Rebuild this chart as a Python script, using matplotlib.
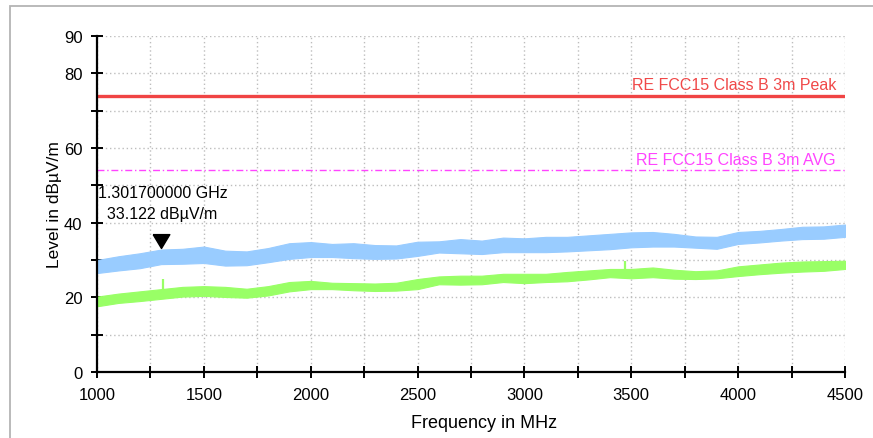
import matplotlib
matplotlib.use("Agg")
import matplotlib.pyplot as plt
from matplotlib.ticker import FixedLocator, FixedFormatter
from matplotlib.patches import Rectangle
import numpy as np

plt.rcParams['font.family'] = ['Liberation Sans', 'DejaVu Sans']

# ---- data ----
freq = [1000, 1100, 1200, 1300, 1400, 1500, 1600, 1700, 1800, 1900,
        2000, 2100, 2200, 2300, 2400, 2500, 2600, 2700, 2800, 2900,
        3000, 3100, 3200, 3300, 3400, 3500, 3600, 3700, 3800, 3900,
        4000, 4100, 4200, 4300, 4400, 4500]
peak_lo = [26.5, 27.2, 27.8, 28.9, 29.0, 29.2, 28.5, 28.6, 29.4, 30.3,
           30.8, 30.8, 30.5, 30.3, 30.4, 31.1, 32.0, 31.8, 31.6, 32.1,
           32.1, 32.1, 32.3, 32.6, 32.9, 33.4, 33.6, 33.6, 33.3, 33.0,
           34.3, 34.7, 35.2, 35.6, 35.7, 36.2]
peak_hi = [30.0, 31.0, 31.8, 32.8, 33.0, 33.6, 32.5, 32.3, 33.2, 34.5,
           34.8, 34.3, 34.5, 34.0, 33.9, 34.9, 35.0, 35.6, 35.2, 36.0,
           35.8, 36.2, 36.2, 36.6, 37.0, 37.4, 37.5, 37.0, 36.3, 36.2,
           37.5, 37.8, 38.3, 38.9, 39.0, 39.5]
avg_lo = [17.6, 18.5, 19.0, 19.6, 20.2, 20.4, 20.1, 19.9, 20.5, 21.6,
          22.2, 22.2, 21.9, 21.7, 21.8, 22.2, 23.5, 23.4, 23.5, 24.1,
          23.8, 24.1, 24.3, 24.8, 25.4, 25.1, 25.4, 25.0, 24.9, 25.1,
          25.7, 26.2, 26.6, 26.9, 27.1, 27.6]
avg_hi = [20.2, 21.0, 21.6, 22.2, 22.8, 23.0, 22.8, 22.3, 23.0, 24.1,
          24.4, 23.9, 23.8, 23.7, 23.9, 24.9, 25.6, 25.8, 25.8, 26.3,
          26.3, 26.3, 26.8, 27.2, 27.6, 27.6, 28.0, 27.4, 27.0, 27.2,
          28.3, 28.8, 29.3, 29.6, 29.7, 29.8]
avg_spike_f = [1310, 3470]
avg_spike_top = [24.9, 29.7]
avg_spike_base = [21.5, 26.5]

limit_peak = 74.0
limit_avg = 54.0
marker_f = 1301.7
marker_level = 33.122

xticks_major = [1000, 1250, 1500, 1750, 2000, 2250, 2500, 2750, 3000,
                3250, 3500, 3750, 4000, 4250, 4500]
xtick_labels = ['1000', '', '1500', '', '2000', '', '2500', '', '3000',
                '', '3500', '', '4000', '', '4500']
yticks = [0, 10, 20, 30, 40, 50, 60, 70, 80, 90]
ytick_labels = ['0', '', '20', '', '40', '', '60', '', '80', '90']

# ---- figure ----
fig = plt.figure(figsize=(8.73, 4.39), dpi=100)
fig.patches.append(Rectangle((10 / 873, -0.1), 1.5, 1.1 - 7 / 439,
                             transform=fig.transFigure, fill=False,
                             edgecolor='#b4b4b4', linewidth=1.3))
ax = fig.add_axes([97 / 873, 1 - 373 / 439, 748 / 873, 336 / 439])

ax.fill_between(freq, peak_lo, peak_hi, color='#99ccff', lw=0.8,
                edgecolor='#99ccff', zorder=3)
ax.fill_between(freq, avg_lo, avg_hi, color='#99ff66', lw=0.8,
                edgecolor='#99ff66', zorder=3)
ax.vlines(avg_spike_f, avg_spike_base, avg_spike_top,
          color='#99ff66', lw=1.6, zorder=3)

ax.axhline(limit_peak, color='#f04444', lw=2.4, zorder=4)
ax.axhline(limit_avg, color='#ff44ff', lw=1.0, zorder=4,
           dashes=(5, 2, 1, 2))
ax.text(4458, limit_peak + 1.0, 'RE FCC15 Class B 3m Peak', color='#f04848',
        ha='right', va='bottom', fontsize=11.5)
ax.text(4458, limit_avg + 1.0, 'RE FCC15 Class B 3m AVG', color='#ff44ff',
        ha='right', va='bottom', fontsize=11.5)

# marker triangle with tip at the level
tri = [(-0.6, 1.0), (0.6, 1.0), (0.0, 0.0), (-0.6, 1.0)]
ax.plot([marker_f], [marker_level], marker=tri, markersize=20,
        color='black', linestyle='none', zorder=5)
ax.text(1005, 48.2, '1.301700000 GHz', fontsize=11.5, ha='left',
        va='center', zorder=6)
ax.text(1045, 42.5, '33.122 dBµV/m', fontsize=11.5, ha='left',
        va='center', zorder=6)

ax.set_xlim(1000, 4500)
ax.set_ylim(0, 90)
ax.xaxis.set_major_locator(FixedLocator(xticks_major))
ax.xaxis.set_major_formatter(FixedFormatter(xtick_labels))
ax.yaxis.set_major_locator(FixedLocator(yticks))
ax.yaxis.set_major_formatter(FixedFormatter(ytick_labels))
ax.grid(True, color='#bdbdbd', linestyle=(0, (1, 2)), linewidth=1.0, zorder=0)
ax.set_axisbelow(True)
for s in ['top', 'right']:
    ax.spines[s].set_visible(False)
for s in ['left', 'bottom']:
    ax.spines[s].set_linewidth(1.6)
    ax.spines[s].set_zorder(6)
ax.tick_params(direction='inout', length=9, width=1.4, labelsize=12,
               pad=6)

ax.set_xlabel('Frequency in MHz', fontsize=13)
ax.set_ylabel('Level in dBµV/m', fontsize=12.5)
ax.xaxis.set_label_coords(0.517, -0.125)
ax.yaxis.set_label_coords(-0.047, 0.5)

fig.savefig('out.png', dpi=100)
